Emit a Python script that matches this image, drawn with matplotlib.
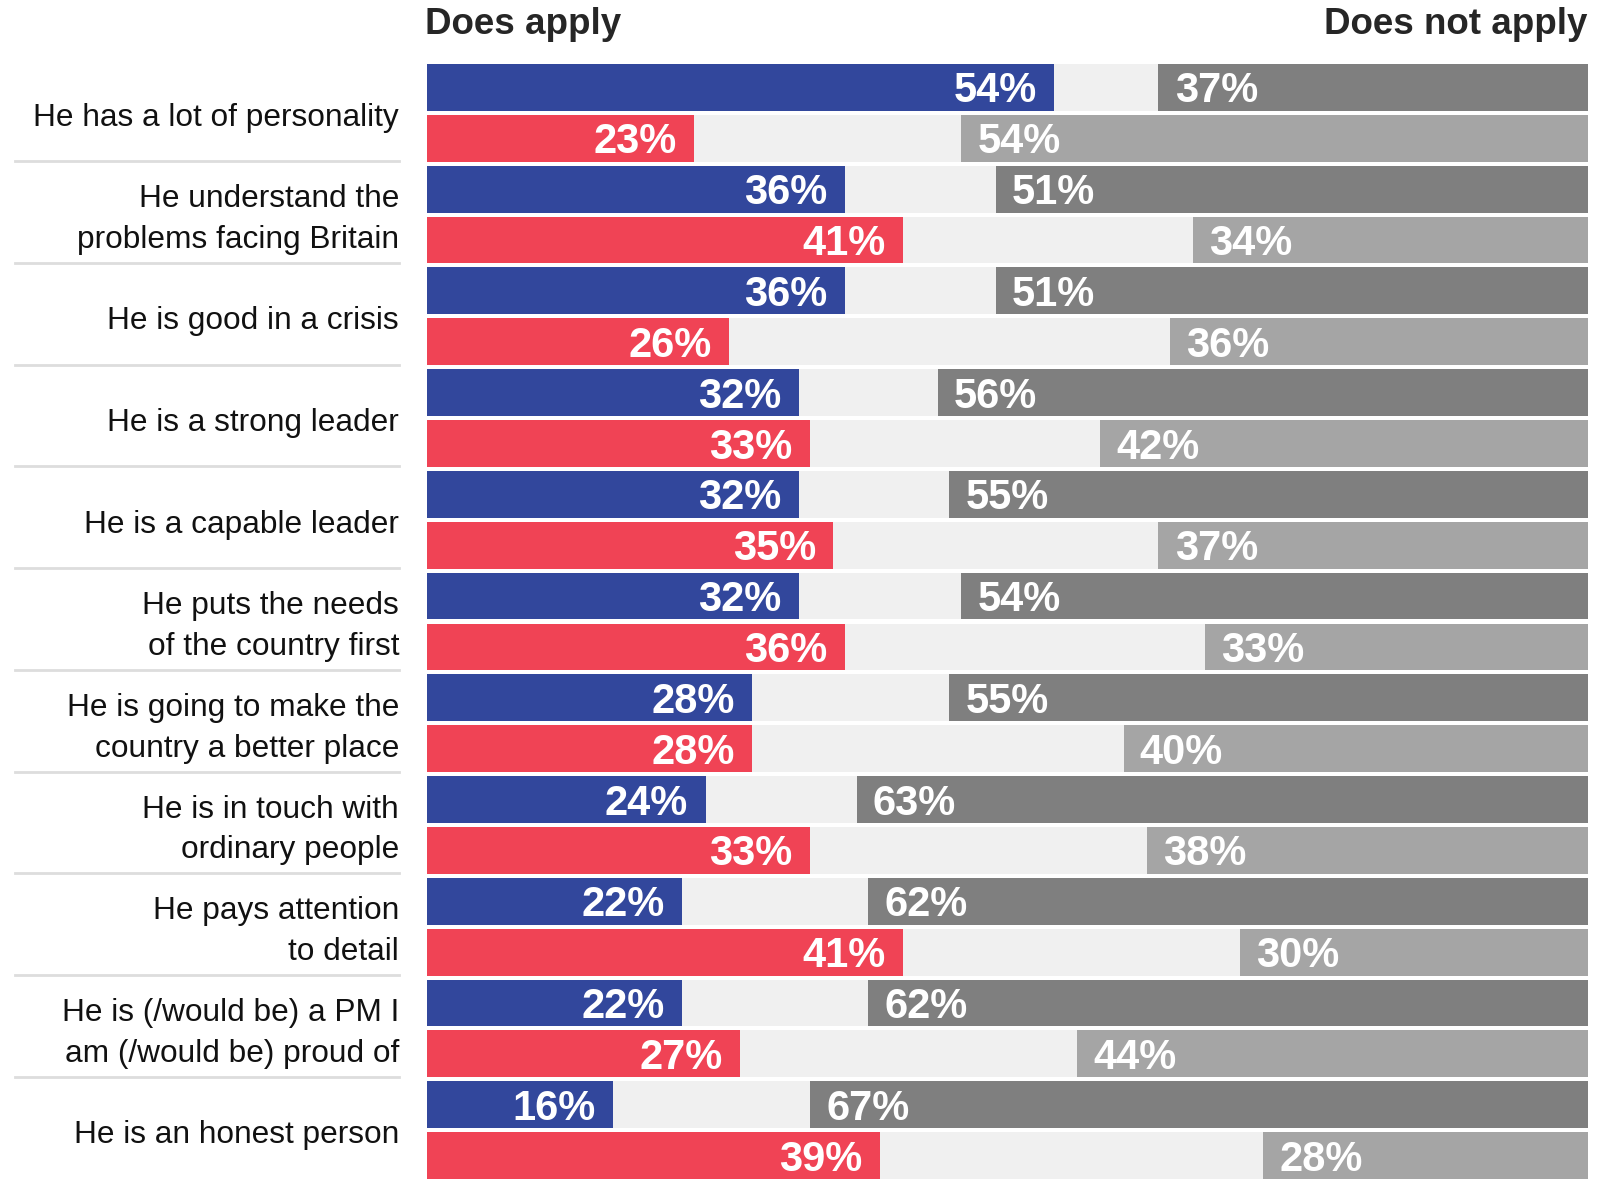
import matplotlib
matplotlib.use('Agg')
import matplotlib.pyplot as plt
from matplotlib.transforms import blended_transform_factory

plt.rcParams['font.family'] = ['Liberation Sans', 'DejaVu Sans']

statements = [
    "He has a lot of personality",
    "He understand the\nproblems facing Britain",
    "He is good in a crisis",
    "He is a strong leader",
    "He is a capable leader",
    "He puts the needs\nof the country first",
    "He is going to make the\ncountry a better place",
    "He is in touch with\nordinary people",
    "He pays attention\nto detail",
    "He is (/would be) a PM I\nam (/would be) proud of",
    "He is an honest person",
]
# blue group
blue_apply = [54, 36, 36, 32, 32, 32, 28, 24, 22, 22, 16]
blue_not = [37, 51, 51, 56, 55, 54, 55, 63, 62, 62, 67]
# red group
red_apply = [23, 41, 26, 33, 35, 36, 28, 33, 41, 27, 39]
red_not = [54, 34, 36, 42, 37, 33, 40, 38, 30, 44, 28]

BLUE = '#32479C'
RED = '#F04355'
DARK = '#7F7F7F'
LIGHT = '#A5A5A5'
BG = '#F0F0F0'

W, H = 1616, 1182
fig = plt.figure(figsize=(W / 100, H / 100), dpi=100)
ax = fig.add_axes([427 / W, 1 - 1179 / H, (1588 - 427) / W, (1179 - 64) / H])

h = 0.92
n = len(statements)
for i in range(n):
    rows = [(2 * i, blue_apply[i], blue_not[i], BLUE, DARK),
            (2 * i + 1, red_apply[i], red_not[i], RED, LIGHT)]
    for y, a, na, ca, cn in rows:
        ax.barh(y, 100, height=h, color=BG)
        ax.barh(y, a, height=h, color=ca)
        ax.barh(y, na, left=100 - na, height=h, color=cn)
        ax.text(a - 1.5, y + 0.08, f"{a}%", ha='right', va='center', color='white',
                fontsize=30, fontweight='bold')
        ax.text(100 - na + 1.4, y + 0.08, f"{na}%", ha='left', va='center', color='white',
                fontsize=30, fontweight='bold')

ax.set_xlim(0, 100)
ax.set_ylim(2 * n - 1 + h / 2, -h / 2)
ax.axis('off')

# category labels and separators
tr = blended_transform_factory(fig.transFigure, ax.transData)
for i, s in enumerate(statements):
    ax.text(399 / W, 2 * i + 0.6, s, transform=tr, ha='right', va='center',
            fontsize=22.8, color='#111111', linespacing=1.46, clip_on=False)
    if i < n - 1:
        ax.plot([15 / W, 399 / W], [2 * i + 1.45] * 2, transform=tr,
                color='#DDDDDD', lw=2, clip_on=False)

fig.text(425 / W, 1 - 25 / H, "Does apply", ha='left', va='center',
         fontsize=26.5, fontweight='bold', color='#262626')
fig.text(1588 / W, 1 - 25 / H, "Does not apply", ha='right', va='center',
         fontsize=26.5, fontweight='bold', color='#262626')

fig.savefig('out.png', dpi=100, facecolor='white')
